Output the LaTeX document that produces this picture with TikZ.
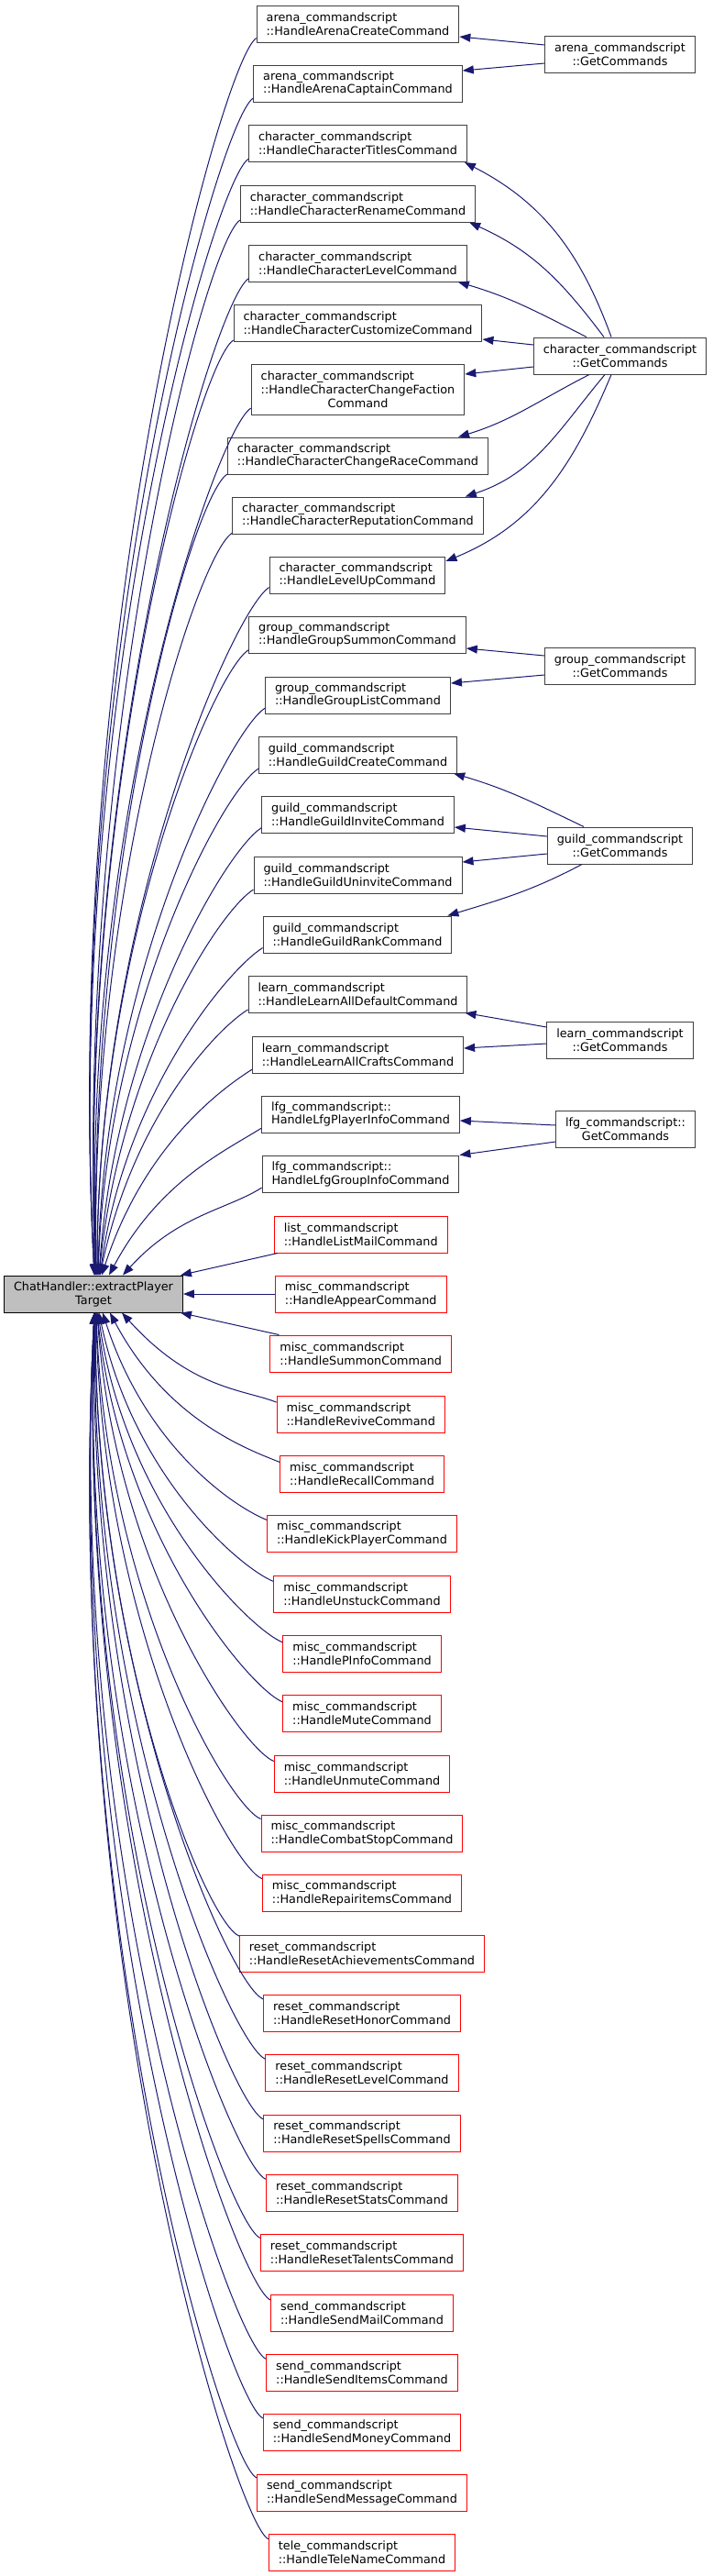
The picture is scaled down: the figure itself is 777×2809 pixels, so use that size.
\documentclass[tikz,border=0pt]{standalone}
\usepackage{fontspec}
\setmainfont{DejaVu Sans}
\usetikzlibrary{arrows.meta}

\begin{document}
\begin{tikzpicture}[x=1pt, y=-1pt, thick]

  % Define Colors
  \definecolor{navyedge}{HTML}{191970}
  \definecolor{rootgray}{HTML}{BFBFBF}
  \definecolor{boxline}{HTML}{404040}

  % Node styles
  \tikzstyle{fbox}=[rectangle, draw=boxline, line width=1pt, fill=white, inner xsep=10.5pt, inner ysep=0pt, minimum height=40pt, font=\fontsize{12.8}{14.9}\selectfont]
  \tikzstyle{cbox}=[fbox, align=left]
  \tikzstyle{rbox}=[fbox, draw=red, align=left]
  \tikzstyle{gbox}=[fbox, align=center]
  \tikzstyle{root_box}=[fbox, draw=black, fill=rootgray, align=center]

  % Edge style
  \tikzstyle{call_path}=[draw=navyedge, line width=1pt, -{Triangle[length=12pt, width=9pt]}]

  \useasboundingbox (0,0) rectangle (777,2809);

  % Root
  \node[root_box] (root) at (102,1411) {ChatHandler::extractPlayer\\Target};

  % Callers
  \node[cbox] (arenaCreate) at (390.5,26) {arena\_commandscript\\::HandleArenaCreateCommand};
  \node[cbox] (arenaCaptain) at (390.5,91) {arena\_commandscript\\::HandleArenaCaptainCommand};
  \node[cbox] (charTitles) at (390.5,156.5) {character\_commandscript\\::HandleCharacterTitlesCommand};
  \node[cbox] (charRename) at (390.5,222) {character\_commandscript\\::HandleCharacterRenameCommand};
  \node[cbox] (charLevel) at (390.5,287) {character\_commandscript\\::HandleCharacterLevelCommand};
  \node[cbox] (charCustomize) at (390.5,352) {character\_commandscript\\::HandleCharacterCustomizeCommand};
  \node[gbox, minimum height=55pt] (charFaction) at (390.5,424.5) {\begin{tabular}{@{}l@{}}character\_commandscript\\::HandleCharacterChangeFaction\end{tabular}\\Command};
  \node[cbox] (charRace) at (390.5,497) {character\_commandscript\\::HandleCharacterChangeRaceCommand};
  \node[cbox] (charReputation) at (390.5,562) {character\_commandscript\\::HandleCharacterReputationCommand};
  \node[cbox] (levelUp) at (390,627) {character\_commandscript\\::HandleLevelUpCommand};
  \node[cbox] (groupSummon) at (390,692) {group\_commandscript\\::HandleGroupSummonCommand};
  \node[cbox] (groupList) at (390.5,758) {group\_commandscript\\::HandleGroupListCommand};
  \node[cbox] (guildCreate) at (390.5,823) {guild\_commandscript\\::HandleGuildCreateCommand};
  \node[cbox] (guildInvite) at (390.5,888) {guild\_commandscript\\::HandleGuildInviteCommand};
  \node[cbox] (guildUninvite) at (390.5,954) {guild\_commandscript\\::HandleGuildUninviteCommand};
  \node[cbox] (guildRank) at (390,1019) {guild\_commandscript\\::HandleGuildRankCommand};
  \node[cbox] (learnDefault) at (390.5,1084) {learn\_commandscript\\::HandleLearnAllDefaultCommand};
  \node[cbox] (learnCrafts) at (390.5,1150) {learn\_commandscript\\::HandleLearnAllCraftsCommand};
  \node[cbox] (lfgPlayer) at (393.5,1215) {lfg\_commandscript::\\HandleLfgPlayerInfoCommand};
  \node[cbox] (lfgGroup) at (393.5,1280) {lfg\_commandscript::\\HandleLfgGroupInfoCommand};

  \node[rbox] (listMail) at (393.75,1346) {list\_commandscript\\::HandleListMailCommand};
  \node[rbox] (miscAppear) at (393.75,1411) {misc\_commandscript\\::HandleAppearCommand};
  \node[rbox] (miscSummon) at (393.75,1476) {misc\_commandscript\\::HandleSummonCommand};
  \node[rbox] (miscRevive) at (393.75,1542) {misc\_commandscript\\::HandleReviveCommand};
  \node[rbox] (miscRecall) at (395,1607) {misc\_commandscript\\::HandleRecallCommand};
  \node[rbox] (miscKick) at (395,1672) {misc\_commandscript\\::HandleKickPlayerCommand};
  \node[rbox] (miscUnstuck) at (395,1738) {misc\_commandscript\\::HandleUnstuckCommand};
  \node[rbox] (miscPinfo) at (395,1803) {misc\_commandscript\\::HandlePInfoCommand};
  \node[rbox] (miscMute) at (395,1868) {misc\_commandscript\\::HandleMuteCommand};
  \node[rbox] (miscUnmute) at (395,1934) {misc\_commandscript\\::HandleUnmuteCommand};
  \node[rbox] (miscCombat) at (395,1999) {misc\_commandscript\\::HandleCombatStopCommand};
  \node[rbox] (miscRepair) at (395,2064) {misc\_commandscript\\::HandleRepairitemsCommand};
  \node[rbox] (resetAchiev) at (395,2130) {reset\_commandscript\\::HandleResetAchievementsCommand};
  \node[rbox] (resetHonor) at (395,2195) {reset\_commandscript\\::HandleResetHonorCommand};
  \node[rbox] (resetLevel) at (395,2260) {reset\_commandscript\\::HandleResetLevelCommand};
  \node[rbox] (resetSpells) at (395,2326) {reset\_commandscript\\::HandleResetSpellsCommand};
  \node[rbox] (resetStats) at (395,2391) {reset\_commandscript\\::HandleResetStatsCommand};
  \node[rbox] (resetTalents) at (395,2456) {reset\_commandscript\\::HandleResetTalentsCommand};
  \node[rbox] (sendMail) at (395,2522) {send\_commandscript\\::HandleSendMailCommand};
  \node[rbox] (sendItems) at (395,2587) {send\_commandscript\\::HandleSendItemsCommand};
  \node[rbox] (sendMoney) at (395,2652) {send\_commandscript\\::HandleSendMoneyCommand};
  \node[rbox] (sendMessage) at (395,2718) {send\_commandscript\\::HandleSendMessageCommand};
  \node[rbox] (teleName) at (395,2783) {tele\_commandscript\\::HandleTeleNameCommand};

  % GetCommands
  \node[gbox] (arenaGC) at (676.5,59) {arena\_commandscript\\::GetCommands};
  \node[gbox] (charGC) at (676.5,388) {character\_commandscript\\::GetCommands};
  \node[gbox] (groupGC) at (676.5,726) {group\_commandscript\\::GetCommands};
  \node[gbox] (guildGC) at (676.5,922) {guild\_commandscript\\::GetCommands};
  \node[gbox] (learnGC) at (676.5,1134) {learn\_commandscript\\::GetCommands};
  \node[gbox] (lfgGC) at (682.5,1231) {lfg\_commandscript::\\GetCommands};

  % links above the root
  \draw[call_path] (arenaCreate.188) .. controls +(-38,24) and +(-36,-691) .. ([xshift=1]root.north);
  \draw[call_path] (arenaCaptain.188) .. controls +(-38,24) and +(-35,-659) .. ([xshift=1]root.north);
  \draw[call_path] (charTitles.188) .. controls +(-38,24) and +(-33,-626) .. ([xshift=1]root.north);
  \draw[call_path] (charRename.188) .. controls +(-38,24) and +(-21,-593) .. ([xshift=2]root.north);
  \draw[call_path] (charLevel.188) .. controls +(-38,24) and +(-20,-561) .. ([xshift=2]root.north);
  \draw[call_path] (charCustomize.188) .. controls +(-38,24) and +(-18,-528) .. ([xshift=2]root.north);
  \draw[call_path] (charFaction.190) .. controls +(-38,24) and +(-17,-492) .. ([xshift=3]root.north);
  \draw[call_path] (charRace.188) .. controls +(-38,24) and +(-8,-456) .. ([xshift=3]root.north);
  \draw[call_path] (charReputation.188) .. controls +(-38,24) and +(-7,-423) .. ([xshift=3]root.north);
  \draw[call_path] (levelUp.188) .. controls +(-38,24) and +(0,-391) .. ([xshift=4]root.north);
  \draw[call_path] (groupSummon.188) .. controls +(-38,24) and +(0,-359) .. ([xshift=4]root.north);
  \draw[call_path] (groupList.188) .. controls +(-38,24) and +(6,-326) .. ([xshift=5]root.north);
  \draw[call_path] (guildCreate.188) .. controls +(-38,24) and +(10,-295) .. ([xshift=5]root.north);
  \draw[call_path] (guildInvite.188) .. controls +(-38,24) and +(18,-262) .. ([xshift=6]root.north);
  \draw[call_path] (guildUninvite.188) .. controls +(-38,24) and +(24,-231) .. ([xshift=6]root.north);
  \draw[call_path] (guildRank.188) .. controls +(-38,24) and +(28,-200) .. ([xshift=7]root.north);
  \draw[call_path] (learnDefault.188) .. controls +(-38,24) and +(36,-169) .. ([xshift=7]root.north);
  \draw[call_path] (learnCrafts.188) .. controls +(-38,24) and +(45,-138) .. ([xshift=9]root.north);
  \draw[call_path] (lfgPlayer.188) .. controls +(-38,24) and +(55,-103) .. ([xshift=17]root.north);
  \draw[call_path] (lfgGroup.188) .. controls +(-38,24) and +(60,-66) .. ([xshift=32]root.north);

  % links beside the root
  \draw[call_path] ([xshift=4]listMail.south west) -- ([xshift=-3]root.north east);
  \draw[call_path] (miscAppear.west) -- (root.east);
  \draw[call_path] ([xshift=10]miscSummon.north west) -- ([xshift=-3]root.south east);

  % links below the root
  \draw[call_path] (miscRevive.172) .. controls +(-35,-14) and +(76,84) .. ([xshift=31]root.south);
  \draw[call_path] (miscRecall.172) .. controls +(-35,-14) and +(62,117) .. ([xshift=18]root.south);
  \draw[call_path] (miscKick.172) .. controls +(-35,-14) and +(48,148) .. ([xshift=10]root.south);
  \draw[call_path] (miscUnstuck.172) .. controls +(-35,-14) and +(38,180) .. ([xshift=6]root.south);
  \draw[call_path] (miscPinfo.172) .. controls +(-35,-14) and +(30,212) .. ([xshift=5]root.south);
  \draw[call_path] (miscMute.172) .. controls +(-35,-14) and +(26,244) .. ([xshift=4]root.south);
  \draw[call_path] (miscUnmute.172) .. controls +(-35,-14) and +(19,276) .. ([xshift=4]root.south);
  \draw[call_path] (miscCombat.172) .. controls +(-35,-14) and +(11,310) .. ([xshift=3]root.south);
  \draw[call_path] (miscRepair.172) .. controls +(-35,-14) and +(6,342) .. ([xshift=3]root.south);
  \draw[call_path] (resetAchiev.172) .. controls +(-35,-14) and +(0,376) .. ([xshift=2]root.south);
  \draw[call_path] (resetHonor.172) .. controls +(-35,-14) and +(0,409) .. ([xshift=2]root.south);
  \draw[call_path] (resetLevel.172) .. controls +(-35,-14) and +(-8,442) .. ([xshift=2]root.south);
  \draw[call_path] (resetSpells.172) .. controls +(-35,-14) and +(-8,476) .. ([xshift=1]root.south);
  \draw[call_path] (resetStats.172) .. controls +(-35,-14) and +(-18,510) .. ([xshift=1]root.south);
  \draw[call_path] (resetTalents.172) .. controls +(-35,-14) and +(-19,544) .. ([xshift=1]root.south);
  \draw[call_path] (sendMail.172) .. controls +(-35,-14) and +(-20,578) .. ([xshift=1]root.south);
  \draw[call_path] (sendItems.172) .. controls +(-35,-14) and +(-32,611) .. ([xshift=1]root.south);
  \draw[call_path] (sendMoney.172) .. controls +(-35,-14) and +(-34,645) .. ([xshift=1]root.south);
  \draw[call_path] (sendMessage.172) .. controls +(-35,-14) and +(-36,679) .. ([xshift=1]root.south);
  \draw[call_path] (teleName.172) .. controls +(-35,-14) and +(-37,713) .. ([xshift=1]root.south);

  % arena links
  \draw[call_path] ([yshift=10]arenaGC.west) -- ([yshift=-14]arenaCreate.east);
  \draw[call_path] ([yshift=-10]arenaGC.west) -- ([yshift=14]arenaCaptain.east);

  % character links
  \draw[call_path] ([xshift=-9.5]charGC.north) .. controls +(-33,-91) and +(86,44) .. ([xshift=-3]charTitles.south east);
  \draw[call_path] ([xshift=-17.5]charGC.north) .. controls +(-46,-61) and +(69,31) .. ([xshift=-7]charRename.south east);
  \draw[call_path] ([xshift=-36.5]charGC.north) .. controls +(-53,-27) and +(58,17) .. ([xshift=-10]charLevel.south east);
  \draw[call_path] ([yshift=12]charGC.west) -- ([yshift=-18]charCustomize.east);
  \draw[call_path] ([yshift=-12]charGC.west) -- ([yshift=16.5]charFaction.east);
  \draw[call_path] ([xshift=-33.5]charGC.south) .. controls +(-55,28) and +(59,-18) .. ([xshift=-33]charRace.north east);
  \draw[call_path] ([xshift=-16.5]charGC.south) .. controls +(-51,61) and +(76,-25) .. ([xshift=-20]charReputation.north east);
  \draw[call_path] ([xshift=-9.5]charGC.south) .. controls +(-41,98) and +(98,-40) .. ([yshift=15]levelUp.east);

  % group links
  \draw[call_path] ([yshift=11]groupGC.west) -- ([yshift=-15]groupSummon.east);
  \draw[call_path] ([yshift=-10]groupGC.west) -- ([yshift=13]groupList.east);

  % guild links
  \draw[call_path] ([xshift=-39.5]guildGC.north) .. controls +(-54,-26) and +(58,17) .. ([xshift=-4]guildCreate.south east);
  \draw[call_path] ([yshift=10]guildGC.west) -- ([yshift=-14]guildInvite.east);
  \draw[call_path] ([yshift=-9]guildGC.west) -- ([yshift=14]guildUninvite.east);
  \draw[call_path] ([xshift=-41.5]guildGC.south) .. controls +(-55,29) and +(59,-18) .. ([xshift=-5]guildRank.north east);

  % learn links
  \draw[call_path] ([yshift=14]learnGC.west) -- ([xshift=-3]learnDefault.south east);
  \draw[call_path] ([yshift=-4]learnGC.west) -- ([yshift=7]learnCrafts.east);

  % lfg links
  \draw[call_path] ([yshift=4]lfgGC.west) -- ([yshift=-7]lfgPlayer.east);
  \draw[call_path] ([yshift=-14]lfgGC.west) -- (lfgGroup.north east);

\end{tikzpicture}
\end{document}
